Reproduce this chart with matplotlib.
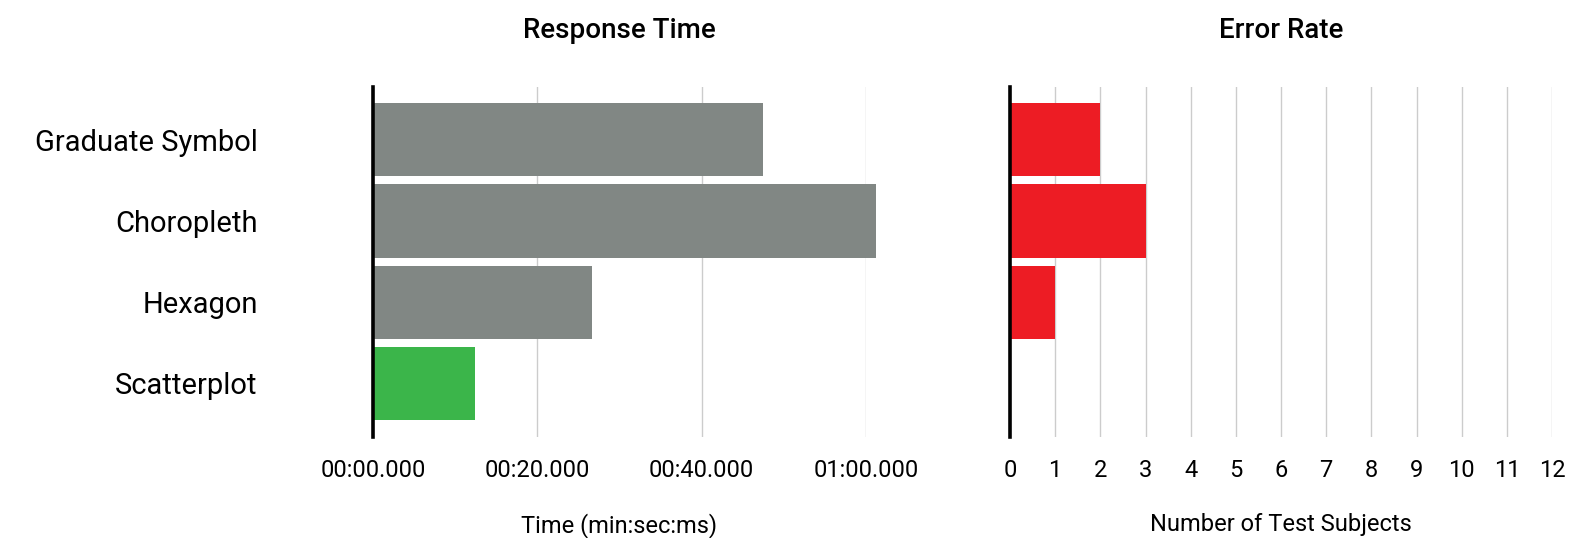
import matplotlib.pyplot as plt

# ---------- DATA ----------
METHODS = ["Graduate Symbol", "Choropleth", "Hexagon", "Scatterplot"]
RESPONSE_SEC = [47.5, 61.2, 26.6, 12.4]     # seconds
ERRORS = [2, 3, 1, 0]                        # number of test subjects
TIME_TICKS = [0, 20, 40, 60]
TIME_LABELS = ["00:00.000", "00:20.000", "00:40.000", "01:00.000"]
ERROR_TICKS = list(range(0, 13))

GRAY, GREEN, RED = "#818784", "#3bb54a", "#ed1c24"

plt.rcParams["font.family"] = ["Roboto", "DejaVu Sans"]

fig = plt.figure(figsize=(15.71, 5.38), dpi=100)
W, H = 1571, 538
ax1 = fig.add_axes([373 / W, 1 - 437 / H, (866 - 373) / W, 350 / H])
ax2 = fig.add_axes([1010 / W, 1 - 437 / H, (1552 - 1010) / W, 350 / H])

y = list(range(len(METHODS)))
colors = [GRAY, GRAY, GRAY, GREEN]
ax1.barh(y, RESPONSE_SEC, height=0.9, color=colors, clip_on=False, zorder=2)
ax2.barh(y, ERRORS, height=0.9, color=RED, zorder=2)

for ax in (ax1, ax2):
    ax.set_ylim(3.66, -0.65)
    for s in ("top", "right", "bottom"):
        ax.spines[s].set_visible(False)
    ax.spines["left"].set_linewidth(2.6)
    ax.spines["left"].set_zorder(3)
    ax.grid(axis="x", color="#cccccc", lw=1, zorder=0)
    ax.set_axisbelow(True)
    ax.tick_params(axis="x", length=0, pad=16, labelsize=17)
    ax.tick_params(axis="y", length=0)

ax1.set_xlim(0, 60)
ax1.set_xticks(TIME_TICKS)
ax1.set_xticklabels(TIME_LABELS)
ax1.set_yticks(y)
ax1.set_yticklabels(METHODS, fontsize=21)
ax1.tick_params(axis="y", pad=83)   # points -> right edge ~258px
ax1.set_title("Response Time", fontsize=20, fontweight="medium", pad=35)
ax1.set_xlabel("Time (min:sec:ms)", fontsize=17, labelpad=22)

ax2.set_xlim(0, 12)
ax2.set_xticks(ERROR_TICKS)
ax2.set_yticks([])
ax2.set_title("Error Rate", fontsize=20, fontweight="medium", pad=35)
ax2.set_xlabel("Number of Test Subjects", fontsize=17, labelpad=22)

fig.savefig("out.png", dpi=100)
